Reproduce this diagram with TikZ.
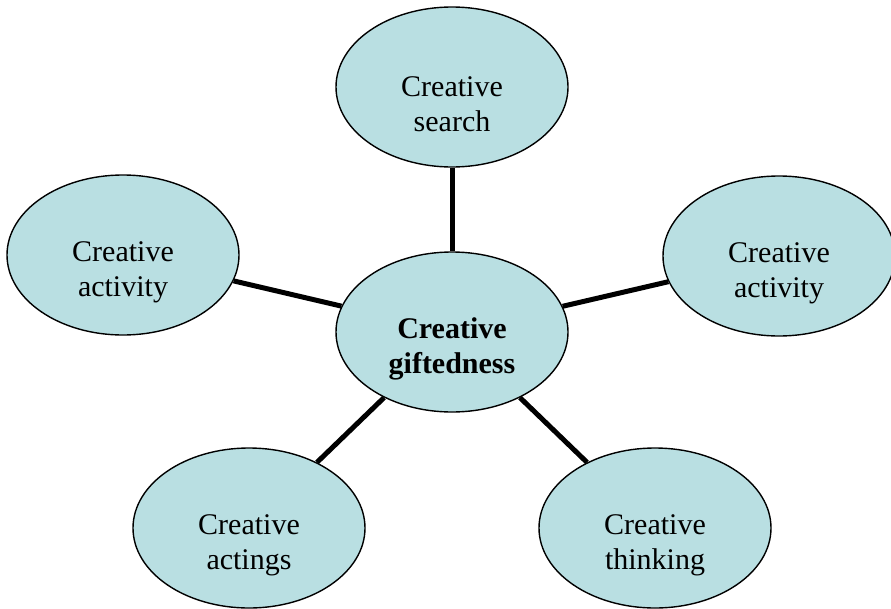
\documentclass[tikz,border=0pt]{standalone}
\usepackage{fontspec}
\setmainfont{Liberation Serif}
\usetikzlibrary{shapes.geometric, positioning}
\definecolor{gift_teal}{HTML}{B9DFE2}
\colorlet{giftfill}{gift_teal}
\newcommand{\lifttext}{\rule{0pt}{54pt}}
\tikzset{
  bubble/.style={ellipse,draw=black,line width=1.4pt,fill=giftfill,minimum width=232pt,minimum height=160pt,inner sep=0pt,align=center,font=\fontsize{30}{35}\selectfont},
  hub/.style={bubble,font=\fontsize{30}{35}\selectfont\bfseries},
  link/.style={line width=5pt,black},
}
\begin{document}
\begin{tikzpicture}[x=1pt,y=-1pt]
	    \useasboundingbox (0,0) rectangle (891,608);
	    \node[hub] (gift) at (452,332) {\lifttext Creative\\giftedness};
	    \node[bubble] (search) at (452,87) {\lifttext Creative\\search};
	    \node[bubble] (actl) at (123,255) {\lifttext Creative\\activity};
	    \node[bubble] (actr) at (779,256) {\lifttext Creative\\activity};
	    \node[bubble] (actings) at (249,528) {\lifttext Creative\\actings};
	    \node[bubble] (thinking) at (655,528) {\lifttext Creative\\thinking};
	    \draw[link] (gift) -- (search);
	    \draw[link] (gift) -- (actl);
	    \draw[link] (gift) -- (actr);
	    \draw[link] (gift) -- (actings);
	    \draw[link] (gift) -- (thinking);
	\end{tikzpicture}
\end{document}
